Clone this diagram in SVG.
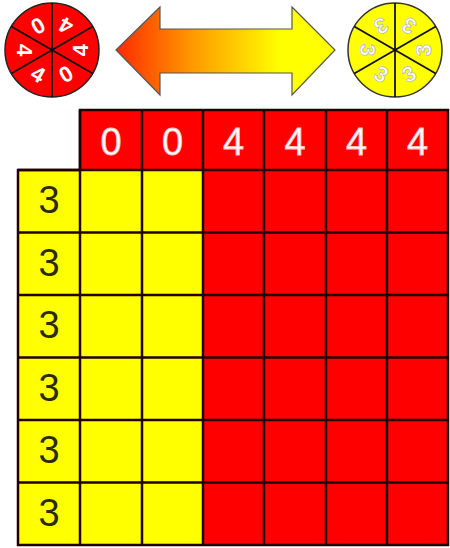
<svg xmlns="http://www.w3.org/2000/svg" width="450" height="548" viewBox="0 0 450 548">
<defs>
<linearGradient id="ag" x1="116" y1="0" x2="335" y2="0" gradientUnits="userSpaceOnUse">
<stop offset="0" stop-color="#ff2a00"/>
<stop offset="0.35" stop-color="#ff9900"/>
<stop offset="0.75" stop-color="#ffff00"/>
<stop offset="1" stop-color="#ffff00"/>
</linearGradient>
<style>
.sl{stroke:#111;stroke-width:1.8;fill:none}
.st{font-family:"Liberation Sans",Arial,sans-serif;font-weight:bold;font-size:22px;text-anchor:middle;dominant-baseline:central;fill:#fff}
.sty{stroke:#bbb;stroke-width:0.8}
.gl{stroke:#200000;stroke-width:2.5;fill:none}
.red{fill:#ff0000}
.yel{fill:#ffff00}
.ht{font-family:"Liberation Sans",Arial,sans-serif;font-size:38px;text-anchor:middle;fill:#fff;stroke:#ffc0c0;stroke-width:0.8}
.rt{font-family:"Liberation Sans",Arial,sans-serif;font-size:38px;text-anchor:middle;fill:#2b2b00}
</style>
</defs>
<rect width="450" height="548" fill="#fff"/>
<g id="spinner-red">
<circle cx="52" cy="50" r="47" fill="#ff0000" stroke="#222" stroke-width="1.5"/>
<line class="sl" x1="52" y1="3" x2="52" y2="97"/>
<line class="sl" x1="11.3" y1="26.5" x2="92.7" y2="73.5"/>
<line class="sl" x1="11.3" y1="73.5" x2="92.7" y2="26.5"/>
<text class="st" transform="translate(38,25.8) rotate(150)">0</text>
<text class="st" transform="translate(66,25.8) rotate(210)">4</text>
<text class="st" transform="translate(80,50) rotate(-90)">4</text>
<text class="st" transform="translate(66,74.2) rotate(-30)">0</text>
<text class="st" transform="translate(38,74.2) rotate(30)">4</text>
<text class="st" transform="translate(24,50) rotate(90)">4</text>
</g>
<g id="spinner-yellow">
<circle cx="395" cy="50" r="47" fill="#ffff00" stroke="#333" stroke-width="1.5"/>
<line class="sl" x1="395" y1="3" x2="395" y2="97"/>
<line class="sl" x1="354.3" y1="26.5" x2="435.7" y2="73.5"/>
<line class="sl" x1="354.3" y1="73.5" x2="435.7" y2="26.5"/>
<text class="st sty" transform="translate(381,25.8) rotate(150)">3</text>
<text class="st sty" transform="translate(409,25.8) rotate(210)">3</text>
<text class="st sty" transform="translate(423,50) rotate(-90)">3</text>
<text class="st sty" transform="translate(409,74.2) rotate(-30)">3</text>
<text class="st sty" transform="translate(381,74.2) rotate(30)">3</text>
<text class="st sty" transform="translate(367,50) rotate(90)">3</text>
</g>
<g id="arrow">
<path d="M116,50 L160,7 L160,29 L292,29 L292,7 L335,50 L292,95 L292,73 L160,73 L160,95 Z" fill="url(#ag)" stroke="#555" stroke-width="1.2" stroke-linejoin="miter"/>
</g>
<g id="grid">
<g id="header">
<rect class="red" x="80" y="110" width="368" height="60"/>
<text class="ht" x="111" y="155">0</text>
<text class="ht" x="172.5" y="155">0</text>
<text class="ht" x="233.5" y="155">4</text>
<text class="ht" x="295" y="155">4</text>
<text class="ht" x="356.5" y="155">4</text>
<text class="ht" x="417.5" y="155">4</text>
</g>
<g id="rows">
<rect class="yel" x="18" y="170" width="185" height="375"/>
<rect class="red" x="203" y="170" width="245" height="375"/>
<text class="rt" x="49" y="213">3</text>
<text class="rt" x="49" y="275.5">3</text>
<text class="rt" x="49" y="338">3</text>
<text class="rt" x="49" y="400.5">3</text>
<text class="rt" x="49" y="463">3</text>
<text class="rt" x="49" y="525.5">3</text>
</g>
<g id="lines">
<path class="gl" d="M80,110 H448 V545 H18 V170 H80 Z"/>
<path class="gl" d="M80,110 V545 M142,110 V545 M203,110 V545 M264,110 V545 M326,110 V545 M387,110 V545"/>
<path class="gl" d="M18,170 H448 M18,232.5 H448 M18,295 H448 M18,357.5 H448 M18,420 H448 M18,482.5 H448"/>
</g>
</g>
</svg>
